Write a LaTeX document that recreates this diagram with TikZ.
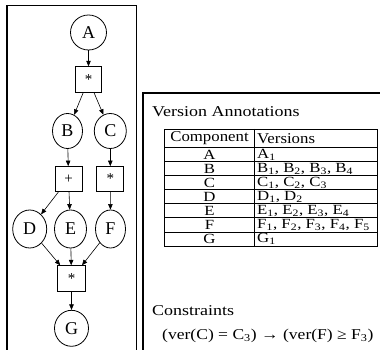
\documentclass[tikz,border=0pt]{standalone}
\usepackage{fontspec}
\setmainfont{Liberation Serif}
\usetikzlibrary{arrows.meta,shapes.geometric}
\newcommand\hs[1]{\scalebox{1.2}[1]{#1}}
\newcommand\hsh[1]{\scalebox{1.12}[1]{#1}}
\newcommand\hsf[1]{\scalebox{1.17}[1]{#1}}
\tikzset{
  gnode/.style={ellipse, draw, line width=0.8pt, inner sep=0pt, font=\fontsize{18}{18}\selectfont},
  opbox/.style={rectangle, draw, line width=0.8pt, inner sep=0pt, font=\fontsize{15}{15}\selectfont},
  arr/.style={-{Triangle[length=5.5pt,width=4.5pt]}, line width=0.6pt},
  tline/.style={line width=0.8pt},
  txt/.style={inner sep=0pt, font=\fontsize{15}{15}\selectfont},
  ctxt/.style={inner sep=0pt, font=\fontsize{14}{14}\selectfont},
}
\begin{document}
\begin{tikzpicture}[x=1pt,y=1pt]
\useasboundingbox (0,0) rectangle (380,-350);
\clip (0,0) rectangle (380,-350);
% frames
\draw[line width=1.6pt] (7,-5.5) rectangle (136.5,-370);
\draw[line width=1.2pt] (143,-93) rectangle (400,-370);
% graph
\node[gnode, minimum width=36pt, minimum height=35pt] (A) at (88.5,-32.5) {A};
\node[opbox, minimum width=26pt, minimum height=26pt] (m1) at (88.5,-79.7) {*};
\node[gnode, minimum width=30pt, minimum height=35pt] (B) at (67.5,-131) {B};
\node[gnode, minimum width=32pt, minimum height=35pt] (C) at (110.3,-131) {C};
\node[opbox, minimum width=27pt, minimum height=25pt] (p) at (68.5,-179) {+};
\node[opbox, minimum width=27pt, minimum height=25pt] (m2) at (110.3,-179) {*};
\node[gnode, minimum width=34pt, minimum height=38pt] (D) at (29.7,-229) {D};
\node[gnode, minimum width=32pt, minimum height=38pt] (E) at (70.5,-229) {E};
\node[gnode, minimum width=30pt, minimum height=38pt] (F) at (110.5,-229) {F};
\node[opbox, minimum width=28pt, minimum height=26pt] (m3) at (71.5,-278.7) {*};
\node[gnode, minimum width=34pt, minimum height=36pt] (G) at (71.5,-328.3) {G};
\draw[arr] (A) -- (m1);
\draw[arr] (m1) -- (B);
\draw[arr] (m1) -- (C);
\draw[arr] (B) -- (p);
\draw[arr] (C) -- (m2);
\draw[arr] (p) -- (D);
\draw[arr] (p) -- (E);
\draw[arr] (m2) -- (F);
\draw[arr] (D) -- (m3);
\draw[arr] (E) -- (m3);
\draw[arr] (F) -- (m3);
\draw[arr] (m3) -- (G);
% annotations
\node[txt, anchor=west] (title) at (152,-112) {\hs{Version Annotations}};
\draw[tline] (164.3,-129) rectangle (377.7,-246);
\draw[tline] (254.7,-129) -- (254.7,-246);
\foreach \yy in {147.3,161.4,175.5,189.6,203.7,217.8,231.9}
  \draw[tline] (164.3,-\yy) -- (377.7,-\yy);
\node[txt] (hc) at (209.5,-138.5) {\hsh{Component}};
\node[txt, anchor=west] (hv) at (257,-138.5) {\hsh{Versions}};
\node[ctxt] (cA) at (209.5,-154.6) {\hs{A}};
\node[ctxt] (cB) at (209.5,-168.7) {\hs{B}};
\node[ctxt] (cC) at (209.5,-182.8) {\hs{C}};
\node[ctxt] (cD) at (209.5,-196.9) {\hs{D}};
\node[ctxt] (cE) at (209.5,-211.0) {\hs{E}};
\node[ctxt] (cF) at (209.5,-225.1) {\hs{F}};
\node[ctxt] (cG) at (209.5,-239.2) {\hs{G}};
\node[ctxt, anchor=west] (vA) at (257,-154.6) {\hs{A\textsubscript{1}}};
\node[ctxt, anchor=west] (vB) at (257,-168.7) {\hs{B\textsubscript{1}, B\textsubscript{2}, B\textsubscript{3}, B\textsubscript{4}}};
\node[ctxt, anchor=west] (vC) at (257,-182.8) {\hs{C\textsubscript{1}, C\textsubscript{2}, C\textsubscript{3}}};
\node[ctxt, anchor=west] (vD) at (257,-196.9) {\hs{D\textsubscript{1}, D\textsubscript{2}}};
\node[ctxt, anchor=west] (vE) at (257,-211.0) {\hs{E\textsubscript{1}, E\textsubscript{2}, E\textsubscript{3}, E\textsubscript{4}}};
\node[ctxt, anchor=west] (vF) at (257,-225.1) {\hs{F\textsubscript{1}, F\textsubscript{2}, F\textsubscript{3}, F\textsubscript{4}, F\textsubscript{5}}};
\node[ctxt, anchor=west] (vG) at (257,-239.2) {\hs{G\textsubscript{1}}};
\node[txt, anchor=west] (cons) at (152,-311) {\hs{Constraints}};
\node[txt, anchor=west] (formula) at (162,-336) {\hsf{(ver(C) = C\textsubscript{3}) → (ver(F) ≥ F\textsubscript{3})}};
\end{tikzpicture}
\end{document}
